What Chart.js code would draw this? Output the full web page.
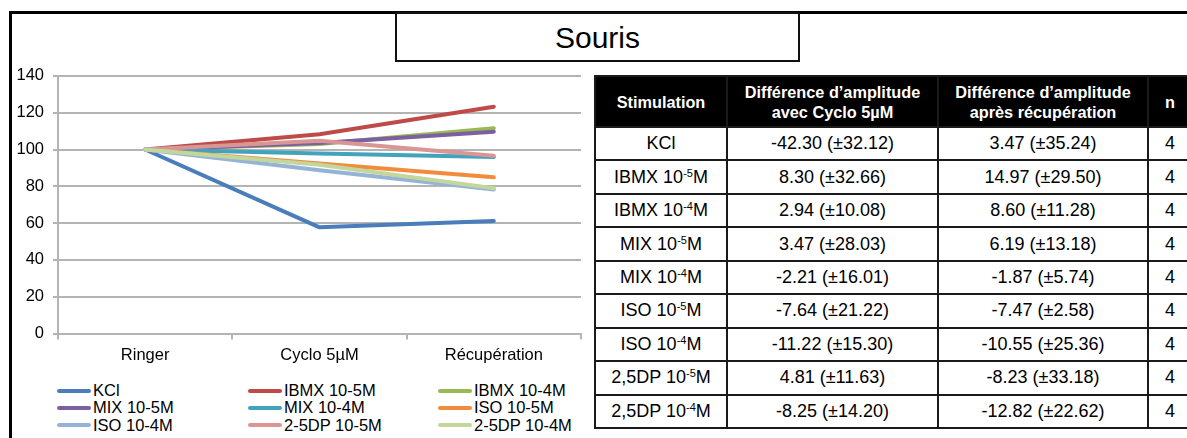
<!DOCTYPE html>
<html lang="fr">
<head>
<meta charset="utf-8">
<title>Souris</title>
<script src="https://cdn.jsdelivr.net/npm/chart.js@4.4.1/dist/chart.umd.min.js"></script>
<style>
  html, body { margin: 0; padding: 0; background: #fff; }
  body {
    width: 1187px; height: 438px; overflow: hidden; position: relative;
    font-family: 'Liberation Sans', Arial, sans-serif; color: #000;
  }
  #frame {
    position: absolute; left: 9px; top: 11px; width: 1300px; height: 500px;
    border-left: 3px solid #000; border-top: 3px solid #000;
    z-index: 2; pointer-events: none;
  }
  #title {
    position: absolute; left: 395px; top: 12px; width: 401px; height: 46px;
    border: 2px solid #111; background: #fff; z-index: 3;
    font-size: 30px; line-height: 48px; text-align: center;
  }
  #chart-box { position: absolute; left: 0; top: 57px; width: 590px; height: 313px; }
  #legend {
    position: absolute; left: 57px; top: 382px;
    display: grid; grid-template-columns: 191px 190px 190px; grid-auto-rows: 17.3px;
    font-size: 16.5px;
  }
  #legend .item { display: flex; align-items: center; white-space: nowrap; }
  #legend .swatch { width: 34px; height: 4px; border-radius: 2px; margin-right: 2px; }
  #recap {
    position: absolute; left: 594px; top: 75px;
    border-collapse: collapse; table-layout: fixed; width: 597px;
  }
  #recap td, #recap th { border: 2px solid #1a1a1a; padding: 0; text-align: center; }
  #recap th {
    background: #000; color: #fff; font-weight: bold; font-size: 16.3px;
    line-height: 20px; height: 49px;
  }
  #recap td { font-size: 18px; height: 31.45px; }
  #recap sup { font-size: 11px; vertical-align: 6px; line-height: 0; }
</style>
</head>
<body>
<div id="frame"></div>
<div id="title">Souris</div>
<div id="chart-box"><canvas id="chart-souris"></canvas></div>
<div id="legend"></div>
<table id="recap">
  <colgroup><col style="width:132px"><col style="width:211px"><col style="width:210px"><col style="width:44px"></colgroup>
  <thead></thead>
  <tbody></tbody>
</table>
<script>
// Amplitude relative (Ringer = 100) pour chaque condition
const phases = ['Ringer', 'Cyclo 5µM', 'Récupération'];
const seriesNames = ['KCl', 'IBMX 10-5M', 'IBMX 10-4M', 'MIX 10-5M', 'MIX 10-4M',
  'ISO 10-5M', 'ISO 10-4M', '2-5DP 10-5M', '2-5DP 10-4M'];
const seriesColors = ['#4a7ebb', '#be4b48', '#98b954', '#7d60a0', '#43a3bd',
  '#f28c3c', '#95b3d7', '#da9694', '#c3d69b'];
const ringer = [100, 100, 100, 100, 100, 100, 100, 100, 100];
const cyclo = [57.70, 108.30, 102.94, 103.47, 97.79, 92.36, 88.78, 104.81, 91.75];
const recuperation = [61.17, 123.27, 111.54, 109.66, 95.92, 84.89, 78.23, 96.58, 78.93];

// Tableau récapitulatif
const headers = ['Stimulation', 'Différence d’amplitude<br>avec Cyclo 5µM',
  'Différence d’amplitude<br>après récupération', 'n'];
const stimulations = ['KCl', 'IBMX 10<sup>-5</sup>M', 'IBMX 10<sup>-4</sup>M', 'MIX 10<sup>-5</sup>M',
  'MIX 10<sup>-4</sup>M', 'ISO 10<sup>-5</sup>M', 'ISO 10<sup>-4</sup>M',
  '2,5DP 10<sup>-5</sup>M', '2,5DP 10<sup>-4</sup>M'];
const diffCyclo = ['-42.30 (±32.12)', '8.30 (±32.66)', '2.94 (±10.08)', '3.47 (±28.03)',
  '-2.21 (±16.01)', '-7.64 (±21.22)', '-11.22 (±15.30)', '4.81 (±11.63)', '-8.25 (±14.20)'];
const diffRecup = ['3.47 (±35.24)', '14.97 (±29.50)', '8.60 (±11.28)', '6.19 (±13.18)',
  '-1.87 (±5.74)', '-7.47 (±2.58)', '-10.55 (±25.36)', '-8.23 (±33.18)', '-12.82 (±22.62)'];
const nValues = [4, 4, 4, 4, 4, 4, 4, 4, 4];

const GRID = '#b4b4b4';
const FONT = "'Liberation Sans', Arial, sans-serif";

new Chart(document.getElementById('chart-souris'), {
  type: 'line',
  data: {
    labels: phases,
    datasets: seriesNames.map((name, i) => ({
      label: name,
      data: [ringer[i], cyclo[i], recuperation[i]],
      borderColor: seriesColors[i],
      backgroundColor: seriesColors[i],
      borderWidth: 4,
      pointRadius: 0,
      borderCapStyle: 'round',
      borderJoinStyle: 'round',
      order: seriesNames.length - i, // dernière série dessinée au-dessus
    })),
  },
  options: {
    responsive: true,
    maintainAspectRatio: false,
    animation: false,
    layout: { padding: { top: 12, right: 9, left: 0, bottom: 0 } },
    plugins: { legend: { display: false }, tooltip: { enabled: false } },
    scales: {
      x: {
        offset: true,
        grid: { offset: true, drawOnChartArea: false, color: GRID, lineWidth: 2, tickLength: 6 },
        border: { color: GRID, width: 2 },
        ticks: { color: '#000', font: { size: 16.5, family: FONT }, padding: 6, maxRotation: 0 },
        afterFit: (s) => { s.height = 36.5; },
      },
      y: {
        min: 0,
        max: 140,
        ticks: { stepSize: 20, color: '#000', font: { size: 16.5, family: FONT }, padding: 9 },
        grid: { color: GRID, lineWidth: 2, tickLength: 5 },
        border: { color: GRID, width: 2 },
        afterFit: (s) => { s.width = 58; },
      },
    },
  },
});

// Légende en grille de 3 colonnes
document.getElementById('legend').innerHTML = seriesNames.map((name, i) =>
  `<div class="item"><span class="swatch" style="background:${seriesColors[i]}"></span>${name}</div>`
).join('');

document.querySelector('#recap thead').innerHTML =
  '<tr>' + headers.map((h) => `<th>${h}</th>`).join('') + '</tr>';
document.querySelector('#recap tbody').innerHTML = stimulations.map((s, i) =>
  `<tr><td>${s}</td><td>${diffCyclo[i]}</td><td>${diffRecup[i]}</td><td>${nValues[i]}</td></tr>`
).join('');
</script>
</body>
</html>
